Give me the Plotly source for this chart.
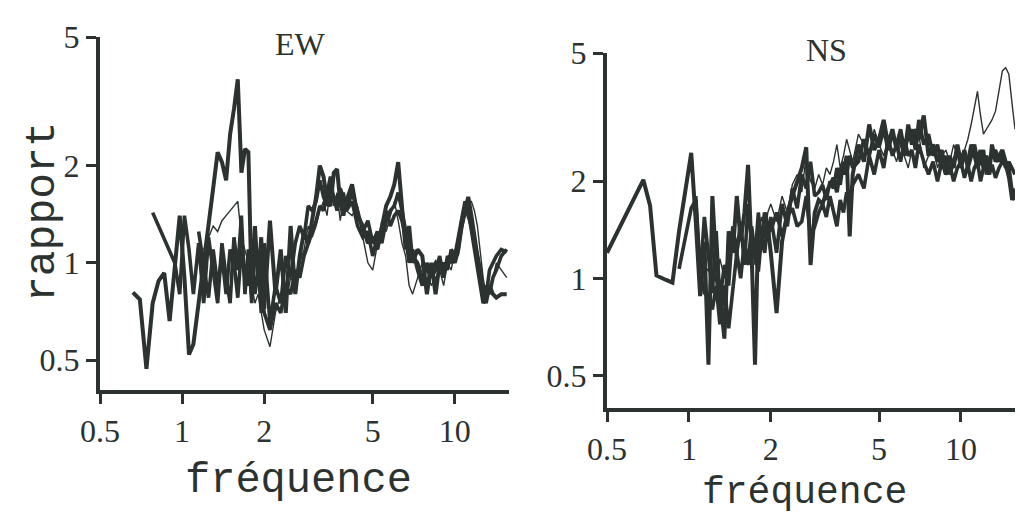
import math
import plotly.graph_objects as go

# ---------------- data ----------------
ew_freq = [
    0.66, 0.70, 0.74, 0.78, 0.82, 0.86, 0.90, 0.94, 0.98, 1.02,
    1.06, 1.10, 1.15, 1.20, 1.25, 1.30, 1.35, 1.40, 1.45, 1.50,
    1.55, 1.60, 1.65, 1.70, 1.75, 1.80, 1.85, 1.90, 1.95, 2.00,
    2.10, 2.20, 2.30, 2.40, 2.50, 2.60, 2.70, 2.80, 2.90, 3.00,
    3.10, 3.20, 3.30, 3.40, 3.50, 3.60, 3.70, 3.80, 3.90, 4.00,
    4.20, 4.40, 4.60, 4.80, 5.00, 5.20, 5.40, 5.60, 5.80, 6.00,
    6.20, 6.40, 6.60, 6.80, 7.00, 7.30, 7.60, 7.90, 8.20, 8.50,
    8.80, 9.10, 9.40, 9.70, 10.0, 10.3, 10.6, 10.9, 11.2, 11.5,
    11.8, 12.1, 12.4, 12.7, 13.0, 13.4, 13.8, 14.2, 14.8, 15.5,
]
ew_s1 = [
    0.81, 0.77, 0.47, 0.75, 0.88, 0.93, 0.66, 1.00, 1.40, 0.90,
    0.52, 0.56, 0.75, 0.95, 1.25, 1.70, 2.20, 2.05, 1.80, 2.50,
    3.00, 3.70, 1.90, 2.25, 2.20, 0.80, 1.30, 0.85, 1.20, 0.72,
    1.35, 0.80, 1.10, 0.70, 1.30, 0.80, 1.05, 1.25, 1.15, 1.35,
    1.60, 2.00, 1.85, 1.55, 1.50, 1.90, 1.95, 1.55, 1.40, 1.55,
    1.75, 1.40, 1.30, 1.15, 1.20, 1.10, 1.30, 1.50, 1.60, 1.75,
    2.05, 1.55, 1.10, 1.30, 1.00, 1.10, 1.05, 0.80, 1.00, 0.80,
    1.00, 0.95, 1.00, 1.05, 1.00, 1.10, 1.30, 1.45, 1.60, 1.40,
    1.20, 1.05, 0.95, 0.80, 0.75, 0.85, 0.80, 0.78, 0.80, 0.80,
]
ew_s2 = [
    None, None, None, 1.43, None, None, None, 1.00, 0.80, 1.40,
    1.10, 0.80, 1.15, 0.75, 1.20, 0.95, 0.75, 1.15, 0.90, 0.75,
    1.20, 0.95, 1.40, 0.80, 1.10, 0.75, 1.20, 1.00, 0.70, 1.15,
    0.65, 0.85, 0.75, 1.05, 0.90, 1.15, 1.30, 1.20, 1.50, 1.45,
    1.55, 1.80, 1.60, 1.50, 1.70, 1.60, 1.45, 1.70, 1.60, 1.45,
    1.55, 1.30, 1.20, 1.25, 1.05, 1.20, 1.25, 1.45, 1.30, 1.40,
    1.45, 1.35, 1.20, 1.00, 1.10, 0.95, 0.85, 1.00, 0.90, 0.95,
    1.05, 0.90, 1.05, 1.00, 1.05, 1.15, 1.35, 1.50, 1.40, 1.30,
    1.15, 1.05, 0.90, 0.80, 0.85, 0.80, 0.90, 0.95, 1.05, 1.10,
]
ew_s3 = [
    None, None, None, None, None, None, None, None, None, None,
    None, None, 1.25, 1.00, 0.78, 1.10, 0.85, 1.05, 0.80, 1.10,
    1.00, 0.78, 1.10, 0.90, 0.85, 1.05, 0.80, 0.95, 0.85, 0.70,
    0.62, 0.75, 0.70, 0.85, 0.80, 0.95, 0.90, 1.05, 1.15, 1.25,
    1.35, 1.50, 1.45, 1.65, 1.85, 1.55, 1.60, 1.50, 1.65, 1.45,
    1.65, 1.45, 1.25, 1.35, 1.15, 1.25, 1.15, 1.35, 1.45, 1.50,
    1.65, 1.45, 1.25, 1.10, 1.05, 1.00, 0.90, 0.85, 0.95, 1.00,
    0.95, 1.00, 0.95, 1.10, 1.05, 1.20, 1.40, 1.55, 1.45, 1.25,
    1.10, 0.95, 0.85, 0.75, 0.78, 0.95, 1.00, 1.05, 1.10, 1.08,
]
ew_thin = [
    None, None, None, None, None, None, None, None, None, None,
    None, None, None, 1.10, 1.20, 1.30, 1.25, 1.35, 1.40, 1.45,
    1.50, 1.55, 1.20, 1.10, 1.00, 0.85, 0.75, 0.80, 0.70, 0.62,
    0.55, 0.70, 0.80, 0.75, 0.90, 0.85, 1.00, 1.10, 1.30, 1.20,
    1.30, 1.45, 1.55, 1.40, 1.75, 1.50, 1.65, 1.35, 1.55, 1.45,
    1.40, 1.50, 1.20, 1.00, 0.95, 1.15, 1.35, 1.25, 1.40, 1.55,
    1.35, 1.15, 1.05, 0.85, 0.80, 0.90, 1.00, 0.95, 0.85, 0.90,
    0.95, 0.85, 1.00, 0.95, 1.10, 1.05, 1.25, 1.40, 1.55, 1.55,
    1.45, 1.30, 1.05, 0.90, 0.80, 0.85, 0.90, 1.00, 0.95, 0.90,
]

ns_freq = [
    0.50, 0.56, 0.62, 0.68, 0.72, 0.76, 0.82, 0.87, 0.92, 0.97,
    1.02, 1.06, 1.10, 1.14, 1.18, 1.22, 1.26, 1.30, 1.35, 1.40,
    1.45, 1.50, 1.55, 1.60, 1.65, 1.70, 1.75, 1.80, 1.85, 1.90,
    1.95, 2.00, 2.10, 2.20, 2.30, 2.40, 2.50, 2.60, 2.70, 2.80,
    2.90, 3.00, 3.10, 3.20, 3.30, 3.40, 3.50, 3.60, 3.70, 3.80,
    3.90, 4.00, 4.20, 4.40, 4.60, 4.80, 5.00, 5.20, 5.40, 5.60,
    5.80, 6.00, 6.20, 6.40, 6.60, 6.80, 7.00, 7.30, 7.60, 7.90,
    8.20, 8.50, 8.80, 9.10, 9.40, 9.70, 10.0, 10.3, 10.6, 10.9,
    11.2, 11.5, 11.8, 12.1, 12.4, 12.7, 13.0, 13.4, 13.8, 14.2,
    14.6, 15.0, 15.4, 15.8,
]
ns_s1 = [
    1.20, None, None, 2.02, 1.68, 1.02, 0.99, 0.97, 1.40, 1.90,
    2.45, 1.50, 0.88, 1.30, 0.54, 1.80, 1.10, 0.90, 0.65, 1.40,
    1.20, 1.80, 1.30, 1.60, 2.25, 1.20, 0.54, 1.50, 1.30, 1.60,
    1.45, 1.20, 0.78, 1.30, 1.60, 1.80, 2.00, 2.20, 2.55, 1.10,
    1.60, 1.75, 1.70, 1.85, 1.95, 2.05, 1.85, 2.20, 2.10, 2.40,
    1.35, 2.10, 2.60, 2.30, 3.00, 2.50, 2.70, 3.10, 2.60, 2.90,
    2.50, 2.80, 2.40, 3.00, 2.60, 2.90, 2.70, 3.20, 2.40, 2.60,
    2.30, 2.50, 2.10, 2.40, 2.20, 2.60, 2.30, 2.50, 2.20, 2.40,
    2.60, 2.30, 2.50, 2.20, 2.40, 2.10, 2.60, 2.30, 2.40, 2.50,
    2.30, 2.20, 1.85, 1.75,
]
ns_s2 = [
    None, None, None, None, None, None, None, None, 1.07, 1.35,
    1.65, 1.75, 1.00, 1.55, 1.20, 0.90, 1.40, 0.85, 1.10, 0.95,
    1.45, 1.20, 1.50, 1.10, 1.70, 1.30, 1.15, 1.60, 1.25, 1.45,
    1.30, 1.55, 1.20, 1.70, 1.45, 1.90, 1.65, 2.10, 1.90, 2.30,
    1.80, 1.85, 1.95, 1.75, 2.00, 1.90, 2.20, 1.95, 2.30, 2.10,
    2.40, 2.20, 2.30, 2.70, 2.40, 2.80, 2.55, 2.90, 2.50, 2.80,
    2.60, 2.90, 2.50, 2.75, 2.90, 2.50, 3.10, 2.60, 2.80, 2.40,
    2.60, 2.20, 2.40, 2.10, 2.30, 2.50, 2.20, 2.40, 2.30, 2.60,
    2.40, 2.20, 2.30, 2.50, 2.10, 2.30, 2.40, 2.50, 2.30, 2.40,
    2.20, 2.30, 2.20, 2.10,
]
ns_s3 = [
    None, None, None, None, None, None, None, None, None, None,
    None, 1.80, 1.05, 0.90, 0.88, 0.80, 0.95, 0.72, 0.95, 0.70,
    0.90, 1.20, 1.00, 1.30, 1.10, 1.45, 1.20, 1.05, 1.35, 1.20,
    1.50, 1.40, 1.60, 1.35, 1.55, 1.65, 1.45, 1.50, 1.80, 1.35,
    1.45, 1.60, 1.70, 1.55, 1.80, 1.60, 1.45, 1.75, 1.60, 1.85,
    1.70, 1.95, 2.10, 1.90, 2.40, 2.10, 2.50, 2.20, 2.70, 2.40,
    2.60, 2.30, 2.70, 2.40, 2.50, 2.20, 2.60, 2.30, 2.10, 2.30,
    2.00, 2.30, 2.10, 2.25, 2.00, 2.20, 2.30, 2.05, 2.25, 2.00,
    2.20, 2.30, 2.00, 2.20, 2.40, 2.10, 2.25, 2.05, 2.20, 2.30,
    2.25, 2.05, 1.75, 1.90,
]
ns_thin = [
    None, None, None, None, None, None, None, None, None, None,
    None, None, None, 1.10, 1.05, 1.25, 0.95, 1.15, 1.00, 1.25,
    1.35, 1.10, 1.45, 1.25, 1.50, 1.35, 1.10, 1.40, 1.55, 1.35,
    1.60, 1.70, 1.50, 1.80, 1.60, 1.95, 2.10, 1.85, 2.40, 2.00,
    1.90, 2.10, 1.95, 2.20, 2.10, 2.30, 2.60, 2.20, 2.40, 2.70,
    2.50, 2.30, 2.80, 2.60, 2.40, 2.90, 2.60, 2.40, 2.70, 2.50,
    2.30, 2.60, 2.40, 2.20, 2.50, 2.30, 2.80, 2.20, 2.40, 2.60,
    2.20, 2.40, 2.50, 2.30, 2.60, 2.40, 2.30, 2.50, 2.70, 3.00,
    3.40, 3.80, 3.20, 2.80, 2.90, 3.00, 3.10, 3.30, 3.80, 4.40,
    4.50, 4.30, 3.50, 2.90,
]

tick_x = [0.5, 1, 2, 5, 10]
tick_x_text = ["0.5", "1", "2", "5", "10"]
tick_y = [0.5, 1, 2, 5]
tick_y_text = ["0.5", "1", "2", "5"]

# ---------------- figure ----------------
INK = "#2b3230"
W, H = 1020, 517

fig = go.Figure()

def add_lines(freq, series_list, xa, ya):
    for vals, width in series_list:
        fig.add_trace(go.Scatter(
            x=freq, y=vals, mode="lines", connectgaps=True,
            line=dict(color=INK, width=width),
            xaxis=xa, yaxis=ya, showlegend=False, hoverinfo="skip",
        ))

add_lines(ew_freq, [(ew_thin, 1.4), (ew_s3, 3.6), (ew_s2, 3.6), (ew_s1, 4.0)], "x", "y")
add_lines(ns_freq, [(ns_thin, 1.4), (ns_s3, 3.6), (ns_s2, 3.6), (ns_s1, 4.0)], "x2", "y2")

def px_x(p):
    return p / W

def px_y(p):
    return 1 - p / H

serif = "Liberation Serif, Times New Roman, serif"
mono = "Liberation Mono, Courier New, monospace"
tickfont = dict(family=serif, size=32, color=INK)

axis_common = dict(
    type="log", showgrid=False, zeroline=False, automargin=False,
    showline=True, linewidth=4, linecolor=INK,
    ticks="outside", ticklen=10, tickwidth=3, tickcolor=INK,
    tickfont=tickfont, mirror=False,
)

fig.update_layout(
    template="none",
    width=W, height=H, autosize=False,
    margin=dict(l=0, r=0, t=0, b=0, pad=0),
    paper_bgcolor="white", plot_bgcolor="white",
    xaxis=dict(axis_common, domain=[px_x(100), px_x(509)], anchor="y",
               range=[math.log10(0.5), math.log10(15.8)],
               tickvals=tick_x, ticktext=tick_x_text),
    yaxis=dict(axis_common, domain=[px_y(390), px_y(37)], anchor="x",
               range=[math.log10(0.404), math.log10(5)],
               tickvals=tick_y, ticktext=tick_y_text),
    xaxis2=dict(axis_common, domain=[px_x(607), px_x(1015)], anchor="y2",
                range=[math.log10(0.5), math.log10(15.8)],
                tickvals=tick_x, ticktext=tick_x_text),
    yaxis2=dict(axis_common, domain=[px_y(408), px_y(53)], anchor="x2",
                range=[math.log10(0.396), math.log10(5)],
                tickvals=tick_y, ticktext=tick_y_text),
)

annos = [
    dict(text="EW", x=px_x(300), y=px_y(44), yanchor="middle",
         font=dict(family=serif, size=32, color=INK)),
    dict(text="NS", x=px_x(826), y=px_y(50), yanchor="middle",
         font=dict(family=serif, size=32, color=INK)),
    dict(text="rapport", x=px_x(42), y=px_y(212), textangle=-90, yanchor="middle",
         font=dict(family=mono, size=43, color=INK)),
    dict(text="fréquence", x=px_x(298), y=px_y(481), yanchor="middle",
         font=dict(family=mono, size=42, color=INK)),
    dict(text="fréquence", x=px_x(804), y=px_y(516), yanchor="bottom",
         font=dict(family=mono, size=38, color=INK)),
]
for a in annos:
    fig.add_annotation(xref="paper", yref="paper", showarrow=False,
                       xanchor="center", **a)

fig.write_html("out.html")
